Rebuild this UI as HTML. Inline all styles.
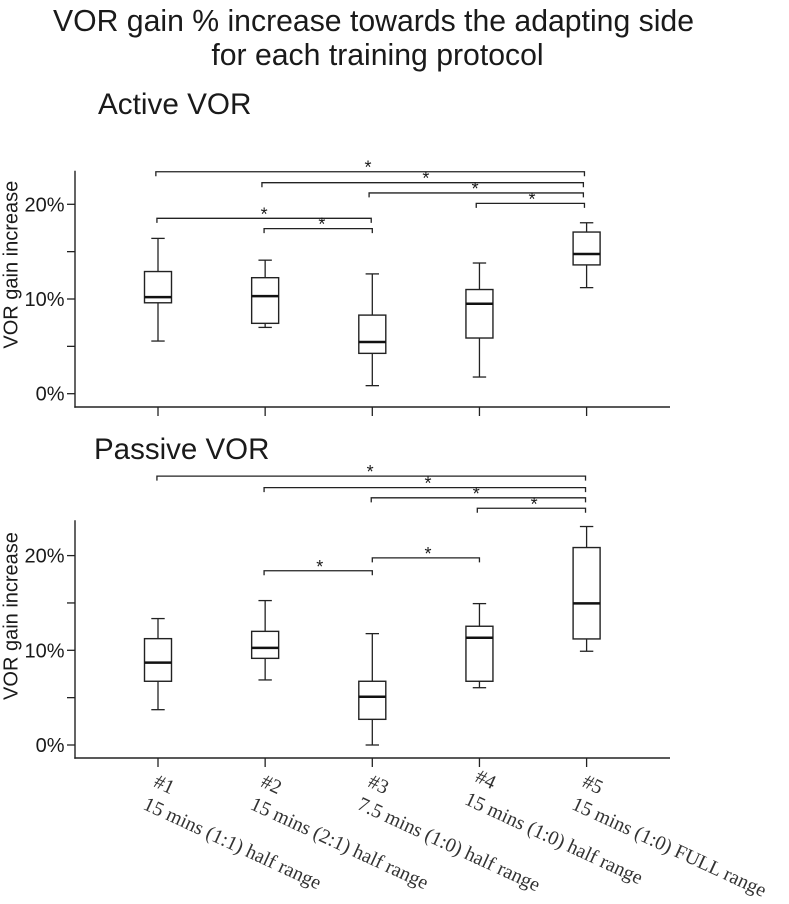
<!DOCTYPE html>
<html lang="en">
<head>
<meta charset="utf-8">
<title>VOR gain increase</title>
<style>
html,body{margin:0;padding:0;background:#fff;width:789px;height:904px;overflow:hidden}
svg{display:block}
text{font-family:"Liberation Sans",Arial,sans-serif;fill:#1a1a1a}
.cat{font-family:"Liberation Serif","Times New Roman",serif;fill:#333}
</style>
</head>
<body>
<svg id="figure" width="789" height="904" viewBox="0 0 789 904" xmlns="http://www.w3.org/2000/svg">
  <text x="373.5" y="31" font-size="30.2" text-anchor="middle">VOR gain % increase towards the adapting side</text>
  <text x="377.5" y="65" font-size="30.2" text-anchor="middle">for each training protocol</text>
  <text x="98" y="114" font-size="29.7">Active VOR</text>
  <text x="94" y="459" font-size="29.5">Passive VOR</text>
</svg>
<script>
const categories = ["#1", "#2", "#3", "#4", "#5"];
const protocols = ["15 mins (1:1) half range", "15 mins (2:1) half range", "7.5 mins (1:0) half range", "15 mins (1:0) half range", "15 mins (1:0) FULL range"];
const yTickValues = [0, 5, 10, 15, 20];
const yTickLabels = ["0%", "", "10%", "", "20%"];

const activeHigh = [16.4, 14.1, 12.65, 13.8, 18.05];
const activeQ3 = [12.9, 12.25, 8.3, 11.0, 17.07];
const activeMedian = [10.2, 10.3, 5.46, 9.5, 14.75];
const activeQ1 = [9.6, 7.43, 4.26, 5.88, 13.6];
const activeLow = [5.56, 7.0, 0.85, 1.76, 11.2];

const passiveHigh = [13.35, 15.25, 11.76, 14.93, 23.07];
const passiveQ3 = [11.23, 12.0, 6.73, 12.54, 20.85];
const passiveMedian = [8.7, 10.25, 5.1, 11.33, 14.95];
const passiveQ1 = [6.73, 9.15, 2.71, 6.73, 11.2];
const passiveLow = [3.73, 6.87, 0, 6.05, 9.9];

const activeBracketFrom = [-0.02, 0.97, 1.97, 2.97, -0.01, 0.99];
const activeBracketTo = [3.98, 3.97, 3.97, 3.98, 1.99, 2.0];
const activeBracketLevel = [23.44, 22.28, 21.2, 20.1, 18.52, 17.43];
const activeStarAt = [1.96, 2.5, 2.96, 3.49, 0.99, 1.53];

const passiveBracketFrom = [-0.01, 0.99, 1.99, 2.98, 0.99, 2.0];
const passiveBracketTo = [3.99, 3.99, 3.99, 3.99, 2.0, 3.0];
const passiveBracketLevel = [28.39, 27.18, 26.1, 25.0, 18.4, 19.76];
const passiveStarAt = [1.98, 2.52, 2.97, 3.51, 1.51, 2.52];

const svg = document.getElementById('figure');
const NS = 'http://www.w3.org/2000/svg';
const STROKE = '#222';

function xPos(i) { return 158 + i * 107.15; }

function line(parent, x1, y1, x2, y2, width) {
  const el = document.createElementNS(NS, 'line');
  el.setAttribute('x1', x1);
  el.setAttribute('y1', y1);
  el.setAttribute('x2', x2);
  el.setAttribute('y2', y2);
  el.setAttribute('stroke', STROKE);
  el.setAttribute('stroke-width', width);
  parent.appendChild(el);
  return el;
}

function group(parent) {
  const g = document.createElementNS(NS, 'g');
  parent.appendChild(g);
  return g;
}

function label(parent, x, y, size, content) {
  const t = document.createElementNS(NS, 'text');
  t.setAttribute('x', x);
  t.setAttribute('y', y);
  t.setAttribute('font-size', size);
  t.textContent = content;
  parent.appendChild(t);
  return t;
}

function drawPanel(prefix, yZero, axisTop, axisBottom, high, q3, median, q1, low, bracketFrom, bracketTo, bracketLevel, starAt) {
  const yPos = function (v) { return yZero - v * 9.47; };
  const panel = group(svg);
  
  

  const yAxis = line(panel, 75, axisTop, 75, axisBottom + 0.7, 1.4);
  
  
  const xAxis = line(panel, 74.3, axisBottom, 670, axisBottom, 1.4);
  
  

  yTickValues.forEach(function (v, i) {
    const tick = line(panel, 67, yPos(v), 75, yPos(v), 1.3);
    
    
    if (yTickLabels[i]) {
      const tl = label(panel, 64.5, yPos(v) + 7, 20, yTickLabels[i]);
      tl.setAttribute('text-anchor', 'end');
      
      
    }
  });

  const yTitle = label(panel, 0, 0, 20, 'VOR gain increase');
  yTitle.setAttribute('text-anchor', 'middle');
  yTitle.setAttribute('transform', 'translate(17.5,' + (yZero - 129) + ') rotate(-90)');
  
  

  categories.forEach(function (c, i) {
    const x = xPos(i);
    const tick = line(panel, x, axisBottom, x, axisBottom + 9, 1.3);
    
    

    const box = group(panel);
    
    

    const upper = line(box, x, yPos(high[i]), x, yPos(q3[i]), 1.3);
    
    
    const lower = line(box, x, yPos(q1[i]), x, yPos(low[i]), 1.3);
    
    
    const capHigh = line(box, x - 6.7, yPos(high[i]), x + 6.7, yPos(high[i]), 1.3);
    
    
    const capLow = line(box, x - 6.7, yPos(low[i]), x + 6.7, yPos(low[i]), 1.3);
    
    

    const rect = document.createElementNS(NS, 'rect');
    rect.setAttribute('x', x - 13.5);
    rect.setAttribute('y', yPos(q3[i]));
    rect.setAttribute('width', 27);
    rect.setAttribute('height', yPos(q1[i]) - yPos(q3[i]));
    rect.setAttribute('fill', '#fff');
    rect.setAttribute('stroke', STROKE);
    rect.setAttribute('stroke-width', 1.4);
    
    
    box.appendChild(rect);

    const med = line(box, x - 13.5, yPos(median[i]), x + 13.5, yPos(median[i]), 2.5);
    med.setAttribute('stroke', '#111');
    
    
  });

  bracketFrom.forEach(function (from, i) {
    const b = group(panel);
    
    
    const x1 = xPos(from);
    const x2 = xPos(bracketTo[i]);
    const y = yPos(bracketLevel[i]);
    const path = document.createElementNS(NS, 'path');
    path.setAttribute('d', 'M' + x1 + ' ' + (y + 4.5) + 'V' + y + 'H' + x2 + 'V' + (y + 4.5));
    path.setAttribute('fill', 'none');
    path.setAttribute('stroke', STROKE);
    path.setAttribute('stroke-width', 1.3);
    
    
    b.appendChild(path);
    const star = label(b, xPos(starAt[i]), y + 2, 18, '*');
    star.setAttribute('text-anchor', 'middle');
    
    
  });
}

drawPanel('active', 393.7, 170.7, 407, activeHigh, activeQ3, activeMedian, activeQ1, activeLow, activeBracketFrom, activeBracketTo, activeBracketLevel, activeStarAt);
drawPanel('passive', 745, 520.3, 758, passiveHigh, passiveQ3, passiveMedian, passiveQ1, passiveLow, passiveBracketFrom, passiveBracketTo, passiveBracketLevel, passiveStarAt);

categories.forEach(function (c, i) {
  const lift = i === 3 ? 5 : 0;
  const x = xPos(i);
  const id = label(svg, 0, 0, 20, c);
  id.setAttribute('class', 'cat');
  id.setAttribute('transform', 'translate(' + (x - 5.5) + ',' + (786 - lift) + ') rotate(24.8)');
  
  
  const desc = label(svg, 0, 0, 20, protocols[i]);
  desc.setAttribute('class', 'cat');
  desc.setAttribute('transform', 'translate(' + (x - 16) + ',' + (808.5 - lift) + ') rotate(24.8)');
  
  
});
</script>
</body>
</html>
